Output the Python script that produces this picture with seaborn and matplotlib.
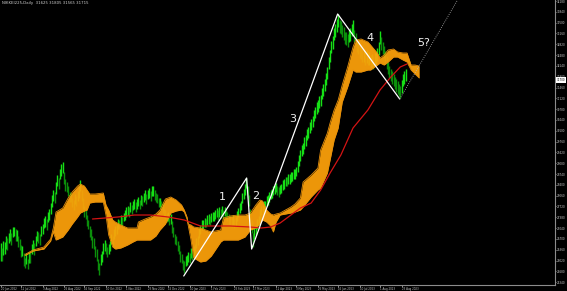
import matplotlib
matplotlib.use("Agg")
import matplotlib.pyplot as plt
import matplotlib.transforms as mtransforms
import numpy as np
import pandas as pd
import seaborn as sns

title_text = "NIKKEI225,Daily  31625 31805 31565 31715"

highs = [
    26570, 26400, 26620, 26600, 26780, 26720, 26900, 27000, 26880, 27080,
    27080, 27000, 26980, 26800, 26700, 26500, 26480, 26250, 26100, 26250,
    26080, 26300, 26280, 26550, 26680, 26560, 26800, 26950, 26920, 26850,
    27100, 27180, 27350, 27420, 27320, 27560, 27650, 27820, 28080, 28250,
    28180, 28480, 28720, 28620, 28900, 29050, 29120, 28800, 28580, 28500,
    28350, 28180, 28150, 28000, 27920, 28100, 28050, 28200, 28320, 28560,
    28250, 28000, 27750, 27680, 27450, 27300, 27100, 27000, 26780, 26720,
    26480, 26380, 26080, 25950, 26220, 26320, 26580, 26680, 26560, 26450,
    26550, 26650, 26850, 26800, 27020, 27100, 27150, 27320, 27300, 27450,
    27380, 27530, 27600, 27700, 27750, 27700, 27850, 27780, 27900, 27950,
    27850, 27950, 28020, 27920, 28080, 28050, 28150, 28230, 28100, 28250,
    28300, 28200, 28350, 28380, 28230, 28150, 28120, 28000, 28000, 27900,
    27820, 27650, 27620, 27520, 27550, 27450, 27470, 27250, 27080, 26850,
    26800, 26650, 26520, 26320, 26220, 26050, 26000, 26150, 26180, 26280,
    26250, 26400, 26320, 26480, 26550, 26740, 26800, 27030, 27150, 27280,
    27300, 27360, 27340, 27450, 27470, 27420, 27520, 27550, 27540, 27620,
    27660, 27600, 27700, 27640, 27720, 27620, 27700, 27620, 27550, 27480,
    27420, 27380, 27450, 27320, 27400, 27580, 27680, 27830, 27900, 28140,
    28280, 28420, 28620, 28380, 28080, 27650, 27300, 26900, 27050, 27150,
    27340, 27430, 27640, 27750, 27780, 27880, 27900, 28040, 28080, 28170,
    28250, 28280, 28380, 28400, 28470, 28380, 28330, 28410, 28440, 28550,
    28580, 28660, 28650, 28730, 28740, 28790, 28810, 28890, 28900, 28970,
    29150, 29350, 29500, 29650, 29730, 29900, 29980, 30150, 30230, 30380,
    30480, 30580, 30760, 30850, 31000, 31060, 31180, 31240, 31450, 31560,
    31720, 31920, 32120, 32420, 32650, 32920, 33080, 33320, 33450, 33620, 33772,
    33580, 33540, 33440, 33370, 33220, 33200, 33130, 33280, 33330, 33470,
    33580, 33280, 33170, 32980, 32920, 32800, 32770, 32660, 32670, 32580,
    32640, 32570, 32570, 32480, 32500, 32440, 32540, 32580, 32700, 32880,
    33250, 33050, 32900, 32780, 32600, 32450, 32270, 32150, 32050, 31980,
    31900, 31800, 31720, 31650, 31580, 31520, 31700, 31900, 31980, 32050,
]

lows = [
    26000, 26020, 26200, 26220, 26380, 26360, 26560, 26640, 26500, 26760,
    26780, 26620, 26650, 26450, 26350, 26120, 26150, 25850, 25790, 25900,
    25750, 25950, 25950, 26220, 26330, 26200, 26480, 26620, 26580, 26500,
    26780, 26850, 27050, 27080, 26980, 27220, 27300, 27480, 27700, 27880,
    27820, 28120, 28380, 28280, 28580, 28680, 28780, 28420, 28220, 28180,
    28050, 27850, 27850, 27700, 27600, 27800, 27750, 27900, 27980, 28200,
    27900, 27650, 27400, 27330, 27100, 27000, 26750, 26680, 26420, 26380,
    26120, 26020, 25720, 25560, 25880, 25980, 26220, 26330, 26230, 26120,
    26230, 26320, 26540, 26500, 26700, 26800, 26850, 27020, 27000, 27150,
    27080, 27250, 27300, 27400, 27450, 27400, 27550, 27480, 27600, 27650,
    27550, 27650, 27720, 27630, 27780, 27750, 27850, 27930, 27800, 27950,
    28000, 27900, 28050, 28050, 27930, 27850, 27830, 27700, 27700, 27600,
    27530, 27350, 27330, 27230, 27250, 27150, 27170, 26900, 26750, 26550,
    26500, 26330, 26230, 25990, 25930, 25720, 25630, 25850, 25870, 25970,
    25950, 26100, 26030, 26170, 26250, 26420, 26500, 26720, 26850, 26970,
    27000, 27080, 27060, 27150, 27180, 27140, 27240, 27250, 27260, 27330,
    27380, 27300, 27400, 27360, 27440, 27340, 27420, 27340, 27250, 27180,
    27130, 27080, 27150, 27030, 27100, 27260, 27380, 27530, 27600, 27820,
    27960, 28080, 28300, 27980, 27720, 27250, 26900, 26450, 26700, 26830,
    27020, 27130, 27320, 27450, 27480, 27560, 27620, 27720, 27780, 27870,
    27950, 27980, 28080, 28110, 28170, 28080, 28030, 28110, 28140, 28250,
    28280, 28360, 28350, 28430, 28440, 28490, 28510, 28590, 28600, 28670,
    28800, 28990, 29140, 29300, 29380, 29540, 29620, 29800, 29880, 30020,
    30120, 30220, 30400, 30490, 30640, 30700, 30820, 30880, 31090, 31200,
    31340, 31540, 31740, 32040, 32250, 32540, 32680, 32940, 33050, 33220, 33350,
    33180, 33140, 33040, 32970, 32820, 32800, 32730, 32880, 32930, 33070,
    33150, 32880, 32770, 32580, 32520, 32400, 32370, 32260, 32270, 32180,
    32240, 32170, 32170, 32080, 32100, 32040, 32140, 32180, 32300, 32480,
    32820, 32650, 32500, 32380, 32200, 32050, 31870, 31750, 31650, 31580,
    31500, 31400, 31320, 31250, 31180, 31130, 31300, 31500, 31580, 31650,
]

cloud_idx = [18, 24, 32, 37, 39, 41, 46, 50, 53, 57, 59, 62, 64, 66, 70, 76, 78, 80, 83, 85,
             89, 94, 98, 101, 102, 107, 111, 115, 118, 122, 126, 130, 134, 136, 138, 139, 141, 143,
             148, 152, 156, 159, 163, 165, 170, 176, 181, 185, 189, 192, 194, 197, 200, 202, 204,
             207, 211, 215, 218, 222, 224, 230, 235, 237, 242, 244, 247, 250, 253, 257, 261, 263,
             267, 272, 274, 279, 281, 284, 287, 291, 294, 298, 301, 304, 307, 310]
cloud_upper = [26210, 26352, 26446, 26698, 27044, 27547, 27672, 27987, 28176, 28364, 28427, 28364,
               28238, 28113, 28113, 28144, 27767, 27610, 27295, 27232, 27138, 27044, 27044, 27044,
               27232, 27327, 27390, 27484, 27610, 27955, 28018, 27924, 27767, 27610, 27390, 27169,
               27138, 27075, 27044, 26981, 26918, 26949, 26981, 27358, 27421, 27452, 27452, 27515,
               27767, 27924, 27893, 27610, 27484, 27452, 27484, 27515, 27610, 27704, 27798, 27987,
               28490, 28710, 28930, 29496, 30030, 30345, 30754, 31068, 31540, 32106, 32734, 32954,
               32986, 32892, 32797, 32546, 32388, 32483, 32640, 32671, 32577, 32546, 32546, 32168,
               32168, 32137]
cloud_lower = [26180, 26321, 26383, 26635, 26918, 26666, 26761, 26981, 27169, 27390, 27515, 27578,
               27610, 27830, 27861, 27861, 27452, 26824, 26446, 26383, 26415, 26509, 26604, 26666,
               26666, 26666, 26666, 26792, 26981, 27169, 27515, 27578, 27610, 27547, 27327, 27107,
               26666, 26100, 25975, 26006, 26163, 26352, 26604, 26666, 26666, 26666, 26761, 26981,
               27044, 27169, 27295, 27232, 27107, 26918, 27232, 27452, 27484, 27515, 27547, 27610,
               27704, 28018, 28238, 28301, 28773, 29182, 29810, 30188, 31005, 31477, 32011, 31948,
               31948, 32011, 32011, 32168, 32231, 32168, 32263, 32420, 32420, 32326, 32263, 32011,
               31885, 31760]

ma_idx = [68, 87, 99, 111, 124, 136, 148, 156, 170, 185, 193, 200, 207, 215, 222, 230, 237, 244,
          252, 261, 272, 281, 289, 296, 301]
ma_vals = [27327, 27390, 27452, 27452, 27390, 27295, 27107, 27107, 27107, 27075, 27044, 27075,
           27201, 27452, 27672, 27830, 28238, 28773, 29339, 30188, 30754, 31382, 31791, 32106, 32200]

wave_idx = [135.6, 182.2, 185.9, 249.6, 295.6]
wave_vals = [25535, 28616, 26383, 33772, 31099]
proj_idx = [295.6, 341.0]
proj_vals = [31099, 34400]

wave_names = ["1", "2", "3", "4", "5?"]
wave_name_idx = [164.4, 188.9, 216.3, 273.3, 313.3]
wave_name_vals = [28018, 28050, 30471, 33017, 32860]

date_idx = [0, 15, 31, 47, 62, 78, 93, 109, 124, 140, 156, 173, 187, 204, 219, 235, 250, 266, 281, 297]
date_labels = ["20 Jun 2022", "12 Jul 2022", "3 Aug 2022", "25 Aug 2022", "16 Sep 2022",
               "10 Oct 2022", "1 Nov 2022", "23 Nov 2022", "15 Dec 2022", "10 Jan 2023",
               "1 Feb 2023", "23 Feb 2023", "17 Mar 2023", "11 Apr 2023", "3 May 2023",
               "25 May 2023", "16 Jun 2023", "10 Jul 2023", "1 Aug 2023", "23 Aug 2023"]

price_ticks = [34180, 33840, 33500, 33160, 32820, 32480, 32140, 31800, 31460, 31120, 30780,
               30440, 30100, 29760, 29420, 29080, 28740, 28400, 28060, 27720, 27380, 27040,
               26700, 26360, 26020, 25680, 25340]
last_price = 31700

sns.set_theme(style="dark")
plt.rcParams["font.family"] = ["DejaVu Sans"]

W, H = 567, 291
fig = plt.figure(figsize=(W / 100, H / 100), dpi=100)
fig.patch.set_facecolor("black")
ax = fig.add_axes([0, 6 / H, 555 / W, 285 / H])
ax.set_facecolor("black")
ax.grid(False)

bars = pd.DataFrame({"high": highs, "low": lows})
bars["i"] = np.arange(len(bars))
bars["mid"] = (bars["high"] + bars["low"]) / 2
up = bars["mid"].diff().fillna(0) >= 0
colors = np.where(up, "#16e016", "#0b8f0b")
ax.vlines(bars["i"], bars["low"], bars["high"], colors=colors, lw=1.0, zorder=2)

ax.fill_between(cloud_idx, cloud_lower, cloud_upper, color="#ffa20a", alpha=0.93, lw=0, zorder=3)
ax.plot(cloud_idx, cloud_upper, color="#e8900a", lw=0.6, zorder=3)
ax.plot(cloud_idx, cloud_lower, color="#e8900a", lw=0.6, zorder=3)

ma = pd.DataFrame({"i": ma_idx, "v": ma_vals})
sns.lineplot(data=ma, x="i", y="v", color="#d41414", lw=0.9, sort=False, ax=ax, zorder=4)

waves = pd.DataFrame({"i": wave_idx, "v": wave_vals})
sns.lineplot(data=waves, x="i", y="v", color="white", lw=0.9, sort=False, ax=ax, zorder=5)
ax.plot(proj_idx, proj_vals, color="#b8b8b8", lw=0.6, ls=(0, (1, 1.6)), zorder=5)

for name, xi, yv in zip(wave_names, wave_name_idx, wave_name_vals):
    ax.text(xi, yv, name, color="#f0f0f0", fontsize=8, ha="center", va="center", zorder=6)

ax.set_xlim(-0.5, 555 / 1.35 - 0.5)
ax.set_ylim(25252, 34212)
ax.set_xlabel("")
ax.set_ylabel("")

ax.yaxis.tick_right()
ax.set_yticks(price_ticks)
ax.set_yticklabels([str(p) for p in price_ticks])
ax.set_xticks(date_idx)
ax.set_xticklabels(date_labels)
for lab in ax.get_xticklabels():
    lab.set_ha("left")
ax.tick_params(axis="y", colors="#c8c8c8", labelsize=2.0, length=1.0, width=0.5, pad=0.6,
               right=True, left=False, labelright=True, labelleft=False)
ax.tick_params(axis="x", colors="#c8c8c8", labelsize=1.9, length=1.2, width=0.5, pad=0.5,
               bottom=True)
for side in ["left", "top"]:
    ax.spines[side].set_visible(False)
for side in ["right", "bottom"]:
    ax.spines[side].set_visible(True)
    ax.spines[side].set_color("#8c8c8c")
    ax.spines[side].set_linewidth(0.8)

trans = mtransforms.blended_transform_factory(ax.transAxes, ax.transData)
ax.text(1.003, last_price, str(last_price), transform=trans, fontsize=2.0, color="black",
        ha="left", va="center", clip_on=False, zorder=7,
        bbox=dict(boxstyle="square,pad=0.25", fc="white", ec="none"))

fig.text(2 / W, 1 - 3 / H, title_text, fontsize=2.8, color="#d0d0d0", ha="left", va="center")

fig.savefig("out.png", dpi=100, facecolor="black")
